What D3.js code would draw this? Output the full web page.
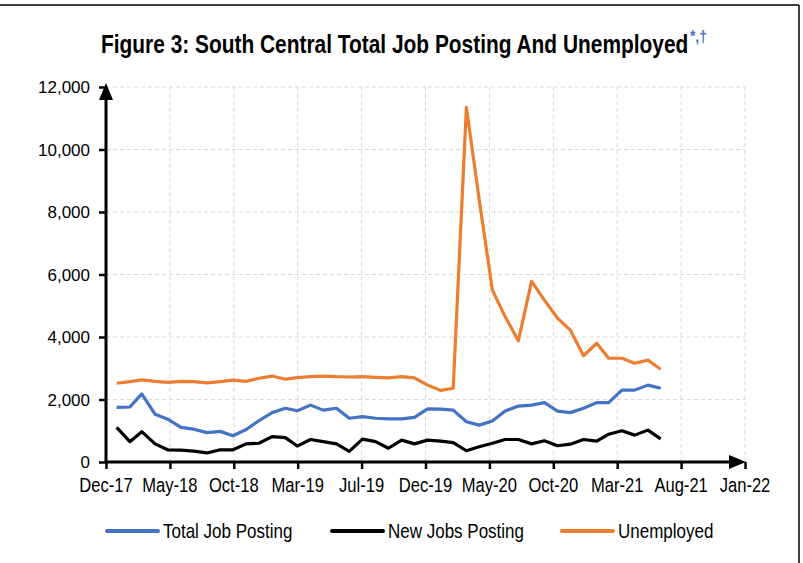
<!DOCTYPE html>
<html>
<head>
<meta charset="utf-8">
<script src="https://cdn.jsdelivr.net/npm/d3@7"></script>
<style>
  body { margin: 0; background: #fff; }
  text { font-family: "Liberation Sans", Arial, sans-serif; }
</style>
</head>
<body>
<svg id="my-svg" width="803" height="563"></svg>
<script>
// monthly observations
const months = [
  "2018-01","2018-02","2018-03","2018-04","2018-05","2018-06","2018-07","2018-08","2018-09","2018-10","2018-11","2018-12",
  "2019-01","2019-02","2019-03","2019-04","2019-05","2019-06","2019-07","2019-08","2019-09","2019-10","2019-11","2019-12",
  "2020-01","2020-02","2020-03","2020-04","2020-05","2020-06","2020-07","2020-08","2020-09","2020-10","2020-11","2020-12",
  "2021-01","2021-02","2021-03","2021-04","2021-05","2021-06","2021-07"
];
const totalJobPosting = [
  1750,1760,2180,1530,1370,1110,1050,940,980,840,1040,1320,
  1580,1720,1640,1820,1660,1720,1400,1450,1400,1380,1380,1430,
  1700,1690,1660,1290,1180,1310,1630,1790,1820,1900,1630,1580,
  1720,1900,1900,2300,2300,2460,2360
];
const newJobsPosting = [
  1110,650,970,580,390,380,350,290,390,390,580,600,
  810,780,510,720,650,580,340,730,650,440,700,580,
  700,670,620,360,490,600,720,720,580,680,520,570,
  720,670,890,1000,860,1020,740
];
const unemployed = [
  2520,2570,2630,2580,2550,2580,2570,2530,2570,2620,2580,2680,
  2750,2650,2700,2730,2750,2730,2720,2730,2710,2690,2730,2690,
  2460,2290,2360,11350,8400,5500,4650,3880,5780,5180,4600,4220,
  3400,3800,3320,3320,3160,3260,2970
];
const xTickLabels = ["Dec-17","May-18","Oct-18","Mar-19","Jul-19","Dec-19","May-20","Oct-20","Mar-21","Aug-21","Jan-22"];
const yTicks = [0, 2000, 4000, 6000, 8000, 10000, 12000];
const seriesNames = ["Total Job Posting", "New Jobs Posting", "Unemployed"];
const seriesColors = ["#4472C4", "#000000", "#ED7D31"];

const svg = d3.select("#my-svg"),
      margin = {top: 87, right: 58, bottom: 101, left: 106},
      innerWidth = 803 - margin.left - margin.right,
      innerHeight = 563 - margin.top - margin.bottom,
      narrow = 0.85;   // squeeze to fake a condensed face

const parseMonth = d3.utcParse("%Y-%m"),
      dates = months.map(parseMonth),
      axisStart = Date.UTC(2017, 11, 7),
      tickDates = xTickLabels.map((d, i) => new Date(axisStart + i * 150 * 864e5));

const xScale = d3.scaleUtc()
    .domain([tickDates[0], tickDates[tickDates.length - 1]])
    .range([0, innerWidth]);

const yScale = d3.scaleLinear()
    .domain([0, 12000])
    .range([innerHeight, 0]);

// outer frame edges
svg.append("line").attr("x1", 0).attr("x2", 799).attr("y1", 5).attr("y2", 5)
    .attr("stroke", "#000").attr("stroke-width", 1.5);
svg.append("line").attr("x1", 799).attr("x2", 799).attr("y1", 5).attr("y2", 563)
    .attr("stroke", "#000").attr("stroke-width", 1.5);

// title
const title = svg.append("text")
    .attr("transform", `translate(101, 53) scale(0.82, 1)`)
    .style("font-size", "25.5px").style("font-weight", "bold")
    .text("Figure 3: South Central Total Job Posting And Unemployed");
title.append("tspan")
    .attr("dy", -11).attr("dx", 2).style("font-size", "17px").style("fill", "#4472C4")
    .text("*,†");

const g = svg.append("g").attr("transform", `translate(${margin.left}, ${margin.top})`);

// grid
g.append("g")
    .selectAll("line").data(yTicks.slice(1)).join("line")
    .attr("x1", 0).attr("x2", innerWidth)
    .attr("y1", d => yScale(d)).attr("y2", d => yScale(d))
    .attr("stroke", "#d9d9d9").attr("stroke-dasharray", "4,3");
g.append("g")
    .selectAll("line").data(tickDates.slice(1)).join("line")
    .attr("x1", d => xScale(d)).attr("x2", d => xScale(d))
    .attr("y1", 0).attr("y2", innerHeight)
    .attr("stroke", "#d9d9d9").attr("stroke-dasharray", "4,3");

// axes: tick marks from d3.axis, labels placed with the same scales
const yAxis = g.append("g")
    .call(d3.axisLeft(yScale).tickValues(yTicks).tickFormat("").tickSize(7));
yAxis.select(".domain").remove();
yAxis.selectAll("line").attr("stroke-width", 2.5);

g.append("g").selectAll("text").data(yTicks).join("text")
    .attr("x", -16).attr("y", d => yScale(d) + 6)
    .attr("text-anchor", "end")
    .style("font-size", "17px")
    .text(d => d3.format(",")(d));

const xAxis = g.append("g")
    .attr("transform", `translate(0, ${innerHeight})`)
    .call(d3.axisBottom(xScale).tickValues(tickDates).tickFormat("").tickSize(7));
xAxis.select(".domain").remove();
xAxis.selectAll("line").attr("stroke-width", 2.5);

g.append("g").selectAll("text").data(tickDates).join("text")
    .attr("transform", d => `translate(${xScale(d)}, ${innerHeight + 30}) scale(${narrow}, 1)`)
    .attr("text-anchor", "middle")
    .style("font-size", "19.5px")
    .text((d, i) => xTickLabels[i]);

// axis lines with arrows
g.append("line").attr("x1", 0).attr("x2", 0).attr("y1", innerHeight + 1).attr("y2", 12)
    .attr("stroke", "#000").attr("stroke-width", 3);
g.append("path").attr("d", "M0,-4 L-7,13 L7,13 Z").attr("fill", "#000");
g.append("line").attr("x1", -1).attr("x2", innerWidth - 14).attr("y1", innerHeight).attr("y2", innerHeight)
    .attr("stroke", "#000").attr("stroke-width", 3);
g.append("path").attr("d", `M${innerWidth + 1},${innerHeight} L${innerWidth - 16},${innerHeight - 7} L${innerWidth - 16},${innerHeight + 7} Z`).attr("fill", "#000");

// series lines
const line = d3.line().x((d, i) => xScale(dates[i])).y(d => yScale(d));
[totalJobPosting, newJobsPosting, unemployed].forEach((s, k) => {
    g.append("path")
        .datum(s)
        .attr("fill", "none")
        .attr("stroke", seriesColors[k])
        .attr("stroke-width", 3.2)
        .attr("stroke-linejoin", "round")
        .attr("d", line);
});

// legend
const legendX = [107, 332, 562];
const legend = svg.append("g").selectAll("g").data(seriesNames).join("g")
    .attr("transform", (d, i) => `translate(${legendX[i]}, 531)`);
legend.append("line").attr("x1", 0).attr("x2", 51).attr("y1", 0).attr("y2", 0)
    .attr("stroke", (d, i) => seriesColors[i]).attr("stroke-width", 4).attr("stroke-linecap", "round");
legend.append("text")
    .attr("transform", `translate(56, 7) scale(${narrow}, 1)`)
    .style("font-size", "20px")
    .text(d => d);
</script>
</body>
</html>
